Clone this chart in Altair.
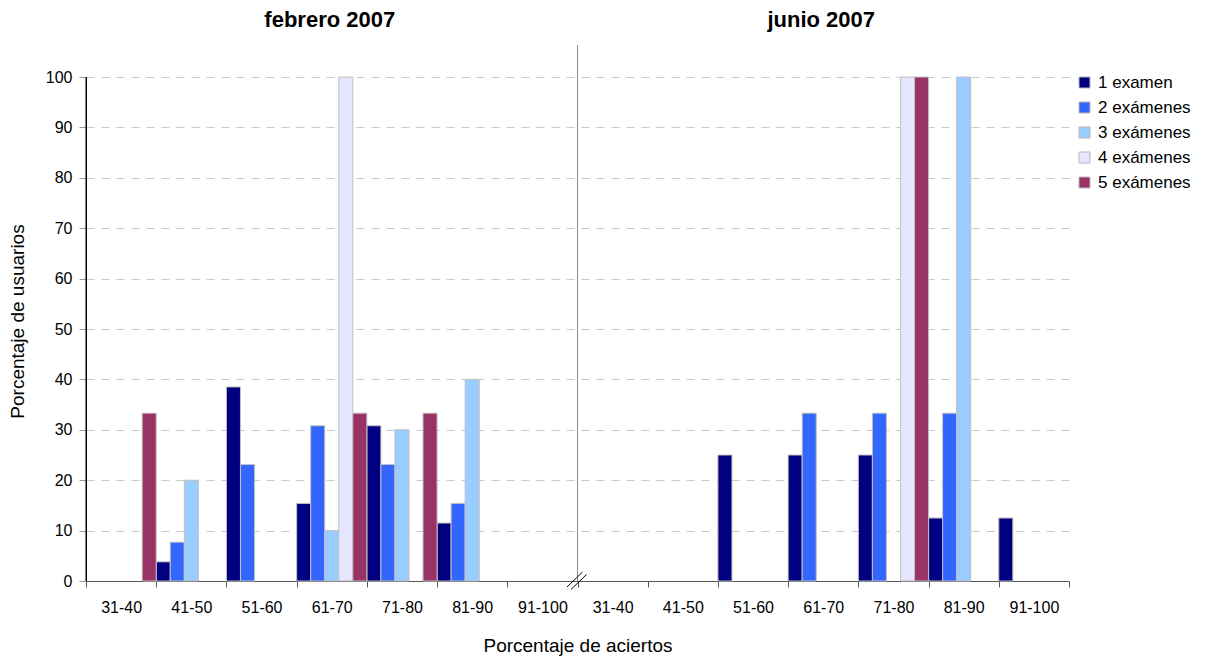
import altair as alt
import pandas as pd

# Score bands (percentage of correct answers) and exam-count series
rangos = ["31-40", "41-50", "51-60", "61-70", "71-80", "81-90", "91-100"]
series = ["1 examen", "2 exámenes", "3 exámenes", "4 exámenes", "5 exámenes"]
colores = ["#000080", "#3366FF", "#99CCFF", "#E6E6FF", "#993366"]

# Percentage of users per band, February 2007
feb_1 = [0, 3.8, 38.5, 15.4, 30.8, 11.5, 0]
feb_2 = [0, 7.7, 23.1, 30.8, 23.1, 15.4, 0]
feb_3 = [0, 20, 0, 10, 30, 40, 0]
feb_4 = [0, 0, 0, 100, 0, 0, 0]
feb_5 = [33.3, 0, 0, 33.3, 33.3, 0, 0]

# Percentage of users per band, June 2007
jun_1 = [0, 0, 25, 25, 25, 12.5, 12.5]
jun_2 = [0, 0, 0, 33.3, 33.3, 33.3, 0]
jun_3 = [0, 0, 0, 0, 0, 100, 0]
jun_4 = [0, 0, 0, 0, 100, 0, 0]
jun_5 = [0, 0, 0, 0, 100, 0, 0]

periodos = {
    "feb": [feb_1, feb_2, feb_3, feb_4, feb_5],
    "jun": [jun_1, jun_2, jun_3, jun_4, jun_5],
}

slots = [f"{p} {r}" for p in periodos for r in rangos]

rows = []
for p, valores in periodos.items():
    for serie, vals in zip(series, valores):
        for r, v in zip(rangos, vals):
            if v > 0:
                rows.append({"slot": f"{p} {r}", "serie": serie, "valor": v})
df = pd.DataFrame(rows)

W, H = 983, 504
FONT = "Liberation Sans"

x_scale = alt.Scale(domain=slots, paddingInner=0, paddingOuter=0)
y_scale = alt.Scale(domain=[0, 100])

x_axis = alt.Axis(
    title="Porcentaje de aciertos",
    labelExpr="split(datum.label, ' ')[1]",
    labelAngle=0,
    tickBand="extent",
    tickSize=6,
    tickColor="#555555",
    domain=True,
    domainColor="#555555",
    labelFontSize=16,
    labelPadding=12,
    titleFontSize=19,
    titleFontWeight="normal",
    titlePadding=21,
    grid=False,
)

y_axis = alt.Axis(
    title="Porcentaje de usuarios",
    values=list(range(0, 101, 10)),
    tickSize=7,
    tickColor="#999999",
    domain=True,
    domainColor="#000000",
    labelFontSize=16,
    labelPadding=7,
    titleFontSize=19,
    titleFontWeight="normal",
    titlePadding=18,
    titleY=244,
    grid=True,
    gridColor="#c8c8c8",
    gridDash=[8, 7],
)


def xenc(**kw):
    return alt.X("slot:N", sort=slots, scale=x_scale, axis=x_axis, **kw)


bars = alt.Chart(df).mark_bar(stroke="#c0c0c0", strokeWidth=1).encode(
    x=xenc(),
    xOffset=alt.XOffset(
        "serie:N", scale=alt.Scale(domain=series, paddingInner=0, paddingOuter=0)
    ),
    y=alt.Y("valor:Q", scale=y_scale, axis=y_axis),
    color=alt.Color(
        "serie:N",
        scale=alt.Scale(domain=series, range=colores),
        legend=alt.Legend(
            title=None,
            orient="none",
            legendX=990,
            legendY=-3,
            symbolType="square",
            symbolSize=121,
            symbolStrokeColor="#b8b8b8",
            symbolStrokeWidth=1,
            labelFontSize=17,
            labelOffset=5,
            rowPadding=7,
            padding=0,
        ),
    ),
)

# Solid value-axis line along the left edge of the plot
y_line = alt.Chart(pd.DataFrame({"lo": [0], "hi": [100]})).mark_rule(
    color="#000000", strokeWidth=1
).encode(
    x=alt.value(0),
    y=alt.Y("lo:Q", scale=y_scale, axis=y_axis),
    y2="hi:Q",
)

# Period headings above each half
titulos = pd.DataFrame(
    {"slot": ["feb 61-70", "jun 61-70"], "texto": ["febrero 2007", "junio 2007"]}
)
heads = alt.Chart(titulos).mark_text(
    fontSize=22, fontWeight="bold", baseline="middle", dx=-2
).encode(
    x=xenc(),
    y=alt.value(-57),
    text="texto:N",
)

# Divider between the two periods
corte = pd.DataFrame({"slot": ["jun 31-40"]})
divider = alt.Chart(corte).mark_rule(color="#8c8c8c", strokeWidth=1).encode(
    x=xenc(bandPosition=0),
    y=alt.value(-32),
    y2=alt.value(H),
)


# Axis break marks ("//") on the category axis
def slash(dx1, dx2, y1, y2):
    return alt.Chart(corte).mark_rule(
        color="#000000", strokeWidth=1, xOffset=dx1, x2Offset=dx2
    ).encode(
        x=xenc(bandPosition=0),
        x2=alt.X2("slot", bandPosition=0),
        y=alt.value(y1),
        y2=alt.value(y2),
    )


brk1 = slash(-10.5, 5, H + 6, H - 9)
brk2 = slash(-6.5, 9, H + 8.5, H - 6.5)

chart = (
    alt.layer(bars, y_line, divider, brk1, brk2, heads)
    .properties(
        width=W,
        height=H,
        autosize=alt.AutoSizeParams(type="none"),
        padding={"left": 86, "top": 77, "right": 140, "bottom": 79},
    )
    .configure(font=FONT)
    .configure_view(stroke=None)
    .configure_axis(labelColor="#000000", titleColor="#000000")
)

chart.save("out.html", embed_options={"renderer": "svg", "actions": False})
